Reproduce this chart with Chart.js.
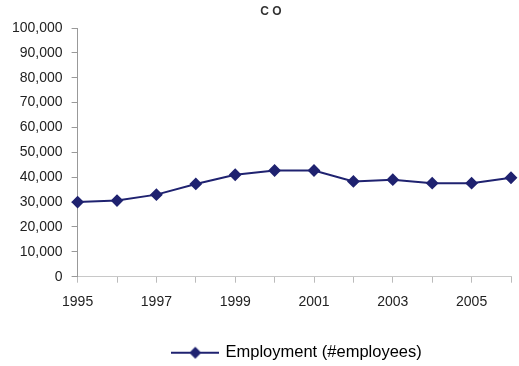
<!DOCTYPE html>
<html>
<head>
<meta charset="utf-8">
<script src="https://cdn.jsdelivr.net/npm/chart.js@4"></script>
<style>
  html, body { margin: 0; padding: 0; background: #fff; }
  #wrap { width: 519px; height: 366px; }
</style>
</head>
<body>
<div id="wrap"><canvas id="chart"></canvas></div>
<script>
// data
const years = ['1995', '1996', '1997', '1998', '1999', '2000', '2001', '2002', '2003', '2004', '2005', '2006'];
const employment = [30000, 30600, 33000, 37300, 41000, 42700, 42700, 38300, 39000, 37600, 37600, 39800];
const seriesName = 'Employment (#employees)';
const chartTitle = 'C O';

const navy = '#1f2270';

// legend symbol: short line with a diamond in the middle
function legendSymbol() {
    const c = document.createElement('canvas');
    c.width = 48;
    c.height = 14;
    const g = c.getContext('2d');
    g.strokeStyle = navy;
    g.lineWidth = 2;
    g.beginPath();
    g.moveTo(0, 7);
    g.lineTo(48, 7);
    g.stroke();
    g.fillStyle = navy;
    g.beginPath();
    g.moveTo(24 - 6, 7);
    g.lineTo(24, 1);
    g.lineTo(24 + 6, 7);
    g.lineTo(24, 13);
    g.closePath();
    g.fill();
    return c;
}

// nudge title and legend like in the original
const shiftBoxes = {
    id: 'shiftBoxes',
    afterLayout(chart) {
        const lg = chart.legend;
        if (lg) {
            lg.left += 40.5; lg.right += 40.5;
            lg.top += 5; lg.bottom += 5;
        }
        if (chart.titleBlock) { chart.titleBlock.left += 14; chart.titleBlock.right += 14; }
    }
};

const ctx = document.getElementById('chart');
new Chart(ctx, {
    type: 'line',
    data: {
        labels: years,
        datasets: [{
            label: seriesName,
            data: employment,
            borderColor: navy,
            backgroundColor: navy,
            borderWidth: 2,
            pointStyle: 'rectRot',
            pointRadius: 5,
            pointHoverRadius: 5,
            tension: 0
        }]
    },
    options: {
        responsive: true,
        maintainAspectRatio: false,
        animation: false,
        layout: { padding: { left: 3, right: 8, top: 0, bottom: 0 } },
        scales: {
            x: {
                offset: false,
                grid: { display: true, drawOnChartArea: false, tickLength: 6, color: '#bbb' },
                border: { color: '#c8c8c8', width: 1 },
                afterFit: (scale) => {
                    scale.height += 8;
                    scale.paddingRight = 0; // last tick has no label
                },
                ticks: {
                    autoSkip: false,
                    maxRotation: 0,
                    padding: 11,
                    color: '#222',
                    font: { family: 'Liberation Sans', size: 14 },
                    callback: function (value, index) {
                        return index % 2 === 0 ? this.getLabelForValue(value) : '';
                    }
                }
            },
            y: {
                min: 0,
                max: 100000,
                grid: { display: true, drawOnChartArea: false, tickLength: 6, color: '#999' },
                border: { color: '#999', width: 1 },
                ticks: {
                    stepSize: 10000,
                    padding: 9,
                    color: '#222',
                    font: { family: 'Liberation Sans', size: 14 },
                    callback: (v) => v.toLocaleString('en-US')
                }
            }
        },
        plugins: {
            title: {
                display: true,
                text: chartTitle,
                color: '#333',
                font: { family: 'Liberation Sans', size: 12, weight: 'bold' },
                padding: { top: 4.5, bottom: 9.1 }
            },
            legend: {
                position: 'bottom',
                labels: {
                    usePointStyle: true,
                    pointStyleWidth: 44,
                    color: '#222',
                    font: { family: 'Liberation Sans', size: 16.5 },
                    generateLabels: (chart) => [{
                        text: seriesName,
                        pointStyle: legendSymbol(),
                        fillStyle: navy,
                        strokeStyle: navy,
                        lineWidth: 0,
                        datasetIndex: 0,
                        hidden: false
                    }]
                }
            },
            tooltip: { enabled: false }
        }
    },
    plugins: [shiftBoxes]
});
</script>
</body>
</html>
